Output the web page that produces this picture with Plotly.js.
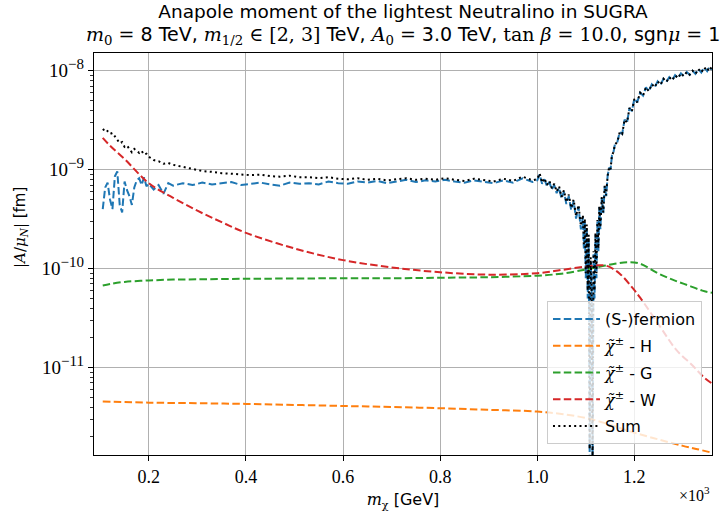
<!DOCTYPE html>
<html>
<head>
<meta charset="utf-8">
<script src="https://cdn.plot.ly/plotly-3.0.1.min.js"></script>
<style>html,body{margin:0;padding:0;background:#fff;}#chart{width:726px;height:517px;}</style>
</head>
<body>
<div id="chart"></div>
<script>
// x in units of 10^3 GeV
const xNoisy = [0.105,0.110,0.115,0.120,0.125,0.130,0.135,0.140,0.145,0.150,0.155,0.160,0.165,0.170,0.175,0.180,0.185,0.190,0.195,0.200,0.210,0.220,0.230,0.240,0.250,
0.27,0.29,0.31,0.33,0.35,0.37,0.39,0.41,0.43,0.45,0.47,0.49,0.51,0.53,0.55,0.57,0.59,0.61,0.63,0.65,0.67,0.69,0.71,0.73,0.75,0.77,0.79,0.81,0.83,0.85,0.87,0.89,0.91,0.93,0.95,0.97,0.99,
1.000,1.005,1.010,1.015,1.020,1.025,1.030,1.035,1.040,1.045,1.050,1.055,1.060,1.065,1.070,1.075,1.080,1.085,1.090,
1.094,1.096,1.098,1.100,1.102,1.104,1.106,1.108,1.110,1.112,1.114,1.116,1.118,1.120,1.122,1.124,1.126,1.128,1.130,
1.133,1.136,1.139,1.142,1.145,1.148,1.151,1.154,1.157,1.160,1.165,1.170,1.175,1.180,1.185,1.190,1.195,1.200,1.206,1.212,1.218,1.224,1.230,1.236,1.242,1.248,1.254,1.260,1.266,1.272,1.278,1.284,1.290,1.296,1.302,1.308,1.314,1.320,1.326,1.332,1.338,1.344,1.350,1.355,1.360];

const fermion = [4.0e-10,6.6e-10,7.4e-10,5.0e-10,4.0e-10,8.6e-10,9.6e-10,4.4e-10,3.7e-10,7.6e-10,6.2e-10,5.4e-10,4.4e-10,6.6e-10,7.8e-10,8.2e-10,7.0e-10,8.4e-10,6.8e-10,7.2e-10,6.3e-10,7.0e-10,5.7e-10,7.3e-10,6.9e-10,
7.3e-10,7.0e-10,7.4e-10,7.1e-10,7.3e-10,7.5e-10,7.0e-10,7.2e-10,7.4e-10,7.1e-10,6.9e-10,7.4e-10,7.2e-10,7.3e-10,7.1e-10,7.6e-10,7.3e-10,7.2e-10,7.6e-10,7.4e-10,7.7e-10,7.3e-10,7.6e-10,7.9e-10,7.5e-10,7.8e-10,7.6e-10,7.9e-10,7.6e-10,7.4e-10,7.8e-10,7.6e-10,7.3e-10,7.8e-10,7.4e-10,8.2e-10,7.5e-10,
7.8e-10,9.0e-10,7.2e-10,8.0e-10,6.8e-10,7.5e-10,6.3e-10,7.0e-10,5.8e-10,6.6e-10,5.1e-10,6.0e-10,4.5e-10,5.4e-10,3.9e-10,4.8e-10,3.2e-10,4.2e-10,2.5e-10,
3.3e-10,1.6e-10,3.0e-10,8.0e-11,2.6e-10,5.0e-11,2.0e-10,1.2e-12,1.2e-10,6.0e-11,1.0e-12,1.4e-10,5.0e-11,2.2e-10,8.0e-11,3.0e-10,1.5e-10,4.2e-10,2.5e-10,
5.2e-10,3.6e-10,6.8e-10,5.4e-10,8.6e-10,1.05e-9,1.0e-9,1.4e-9,1.5e-9,1.8e-9,1.9e-9,2.4e-9,2.3e-9,3.2e-9,3.0e-9,4.2e-9,3.9e-9,5.2e-9,4.8e-9,6.0e-9,5.6e-9,6.8e-9,6.2e-9,7.3e-9,6.8e-9,7.8e-9,7.2e-9,8.3e-9,7.7e-9,8.6e-9,8.0e-9,9.0e-9,8.4e-9,9.4e-9,8.8e-9,9.7e-9,9.1e-9,1.0e-8,9.3e-9,1.04e-8,9.6e-9,1.08e-8,9.9e-9,1.1e-8,1.02e-8];

const total = [2.5e-9,2.6e-9,2.45e-9,2.3e-9,2.35e-9,2.15e-9,2.0e-9,1.85e-9,1.9e-9,1.7e-9,1.75e-9,1.6e-9,1.5e-9,1.62e-9,1.55e-9,1.48e-9,1.55e-9,1.42e-9,1.45e-9,1.35e-9,1.25e-9,1.22e-9,1.15e-9,1.17e-9,1.12e-9,
1.07e-9,1.02e-9,9.7e-10,9.5e-10,9.2e-10,9.1e-10,8.9e-10,8.8e-10,8.9e-10,8.6e-10,8.5e-10,8.7e-10,8.4e-10,8.4e-10,8.2e-10,8.4e-10,8.1e-10,8.0e-10,8.2e-10,7.9e-10,8.1e-10,7.8e-10,8.0e-10,8.2e-10,7.9e-10,8.1e-10,7.9e-10,8.2e-10,7.9e-10,7.7e-10,8.1e-10,7.9e-10,7.6e-10,8.1e-10,7.7e-10,8.5e-10,7.8e-10,
8.0e-10,9.2e-10,7.4e-10,8.2e-10,7.0e-10,7.7e-10,6.5e-10,7.2e-10,6.0e-10,6.8e-10,5.3e-10,6.2e-10,4.7e-10,5.6e-10,4.1e-10,5.0e-10,3.4e-10,4.4e-10,2.7e-10,
3.5e-10,1.7e-10,3.2e-10,9.0e-11,2.8e-10,6.0e-11,2.2e-10,1.5e-12,1.3e-10,7.0e-11,1.2e-12,1.5e-10,6.0e-11,2.3e-10,9.0e-11,3.1e-10,1.6e-10,4.3e-10,2.6e-10,
5.3e-10,3.7e-10,6.9e-10,5.5e-10,8.7e-10,1.06e-9,1.01e-9,1.41e-9,1.5e-9,1.8e-9,1.9e-9,2.4e-9,2.3e-9,3.2e-9,3.0e-9,4.2e-9,3.9e-9,5.2e-9,4.8e-9,6.0e-9,5.6e-9,6.8e-9,6.2e-9,7.3e-9,6.8e-9,7.8e-9,7.2e-9,8.3e-9,7.7e-9,8.6e-9,8.0e-9,9.0e-9,8.4e-9,9.4e-9,8.8e-9,9.7e-9,9.1e-9,1.0e-8,9.3e-9,1.04e-8,9.6e-9,1.08e-8,9.9e-9,1.1e-8,1.02e-8];

const xSmooth = [0.105,0.12,0.15,0.2,0.25,0.3,0.35,0.4,0.5,0.6,0.7,0.8,0.9,1.0,1.05,1.1,1.125,1.145,1.17,1.195,1.212,1.253,1.287,1.32,1.342,1.36];
const charginoW = [2.1e-9,1.75e-9,1.28e-9,7.3e-10,5.2e-10,3.85e-10,2.95e-10,2.3e-10,1.6e-10,1.22e-10,1.03e-10,9.2e-11,8.7e-11,9.0e-11,9.7e-11,1.05e-10,1.08e-10,1.06e-10,8.9e-11,6.5e-11,5.1e-11,2.6e-11,1.5e-11,1.05e-11,8.1e-12,6.9e-12];

const xSmooth2 = [0.105,0.12,0.15,0.2,0.25,0.3,0.4,0.5,0.6,0.7,0.8,0.9,1.0,1.05,1.1,1.13,1.16,1.185,1.21,1.25,1.28,1.31,1.34,1.36];
const charginoG = [6.75e-11,7.0e-11,7.35e-11,7.6e-11,7.75e-11,7.8e-11,7.9e-11,7.95e-11,8.0e-11,8.0e-11,8.1e-11,8.2e-11,8.5e-11,8.9e-11,9.8e-11,1.05e-10,1.12e-10,1.16e-10,1.13e-10,8.9e-11,7.7e-11,6.8e-11,6.0e-11,5.7e-11];

const xSmooth3 = [0.105,0.2,0.3,0.4,0.5,0.6,0.7,0.8,0.9,1.0,1.05,1.1,1.15,1.2,1.25,1.3,1.33,1.36];
const charginoH = [4.55e-12,4.43e-12,4.37e-12,4.3e-12,4.2e-12,4.1e-12,4.0e-12,3.89e-12,3.75e-12,3.6e-12,3.4e-12,3.1e-12,2.65e-12,2.2e-12,1.88e-12,1.62e-12,1.5e-12,1.38e-12];

const xTickVals = [0.2,0.4,0.6,0.8,1.0,1.2];
const xTickText = ['0.2','0.4','0.6','0.8','1.0','1.2'];
const yTickVals = [1e-11,1e-10,1e-9,1e-8];
const yExponents = ['−11','−10','−9','−8'];

const SERIF = "'Liberation Serif', 'DejaVu Serif', serif";
const MATH = "'DejaVu Serif', serif";
const SANS = "'DejaVu Sans', sans-serif";
const math = s => `<span style="font-family:${MATH}">${s}</span>`;
const chi = math('<i>χ̃</i><sup>±</sup>');
const yTickText = yExponents.map(e => `10<sup><span style="font-size:15px">${e}</span></sup>`);

const minorY = [];
for (let e = -12; e <= -8; e++) for (let k = 2; k <= 9; k++) minorY.push(k * Math.pow(10, e));

const dash = '7.5px,3.3px';
const traces = [
  {x: xNoisy, y: fermion, name: '(S-)fermion', legendgroup: 'a', mode: 'lines', line: {color: '#1f77b4', width: 2, dash: dash}},
  {x: xSmooth3, y: charginoH, name: chi + ' - H', legendgroup: 'b', mode: 'lines', line: {color: '#ff7f0e', width: 2, dash: dash, shape: 'spline'}},
  {x: xSmooth2, y: charginoG, name: chi + ' - G', legendgroup: 'c', mode: 'lines', line: {color: '#2ca02c', width: 2, dash: dash, shape: 'spline'}},
  {x: xSmooth, y: charginoW, name: chi + ' - W', legendgroup: 'd', mode: 'lines', line: {color: '#d62728', width: 2, dash: dash, shape: 'spline'}},
  {x: xNoisy, y: total, name: 'Sum', legendgroup: 'e', mode: 'lines', line: {color: '#000000', width: 2, dash: '2px,3.3px'}}
];

const layout = {
  width: 726, height: 517,
  margin: {l: 94, r: 14, t: 53, b: 62, pad: 0},
  paper_bgcolor: '#ffffff', plot_bgcolor: '#ffffff',
  font: {family: SANS, size: 15, color: '#000'},
  title: {text: 'Anapole moment of the lightest Neutralino in SUGRA', font: {family: SANS, size: 18.5, color: '#000'},
          x: 0.5, xref: 'paper', y: 1 - 12/517, yref: 'container', yanchor: 'middle'},
  xaxis: {
    type: 'linear', range: [0.087, 1.36], tickmode: 'array', tickvals: xTickVals, ticktext: xTickText,
    showgrid: true, gridcolor: '#b0b0b0', gridwidth: 1,
    showline: true, linecolor: '#000', linewidth: 1.3, mirror: true,
    ticks: 'outside', ticklen: 5, tickwidth: 1, tickcolor: '#000',
    tickfont: {family: SERIF, size: 18}, zeroline: false,
    title: {text: math('<i>m</i><sub>χ</sub>') + ' [GeV]', font: {family: SANS, size: 16}, standoff: 8}
  },
  yaxis: {
    type: 'log', range: [Math.log10(1.31e-12), Math.log10(1.51e-8)], tickmode: 'array', tickvals: yTickVals, ticktext: yTickText,
    showgrid: true, gridcolor: '#b0b0b0', gridwidth: 1,
    showline: true, linecolor: '#000', linewidth: 1.3, mirror: true,
    ticks: 'outside', ticklen: 5, tickwidth: 1, tickcolor: '#000',
    minor: {tickmode: 'array', tickvals: minorY, ticks: 'outside', ticklen: 2.5, tickwidth: 0.8, tickcolor: '#000', showgrid: false},
    tickfont: {family: SERIF, size: 19}, zeroline: false,
    title: {text: ''}
  },
  legend: {
    x: 0.9838, xanchor: 'right', y: 0.0274, yanchor: 'bottom',
    bgcolor: 'rgba(255,255,255,0.8)', bordercolor: '#cccccc', borderwidth: 1,
    font: {family: SANS, size: 16}, tracegroupgap: 3, traceorder: 'grouped', itemwidth: 47
  },
  showlegend: true,
  annotations: [
    {text: math('<i>m</i><sub>0</sub> = ') + '8 TeV, ' + math('<i>m</i><sub>1/2</sub> ∈ [2, 3]') + ' TeV, ' + math('<i>A</i><sub>0</sub> = ') + '3.0 TeV, ' + math('tan <i>β</i> = 10.0') + ', sgn' + math('<i>μ</i> = ') + '1',
     xref: 'paper', yref: 'paper', x: 0.5, y: (455 - 35) / 402, xanchor: 'center', yanchor: 'middle', showarrow: false,
     font: {family: SANS, size: 19, color: '#000'}},
    {text: math('|<i>A</i>/<i>μ</i><sub><i>N</i></sub>|') + ' [fm]', textangle: -90,
     xref: 'paper', yref: 'paper', x: (21 - 94) / 618, y: (455 - 228) / 402, xanchor: 'center', yanchor: 'middle', showarrow: false,
     font: {family: SANS, size: 15, color: '#000'}},
    {text: '×10<sup>3</sup>', xref: 'paper', yref: 'paper', x: 1.0, y: -(494 - 455) / 402, xanchor: 'right', yanchor: 'middle', showarrow: false,
     font: {family: SERIF, size: 16, color: '#000'}}
  ]
};

Plotly.newPlot('chart', traces, layout, {displayModeBar: false, staticPlot: true});
</script>
</body>
</html>
